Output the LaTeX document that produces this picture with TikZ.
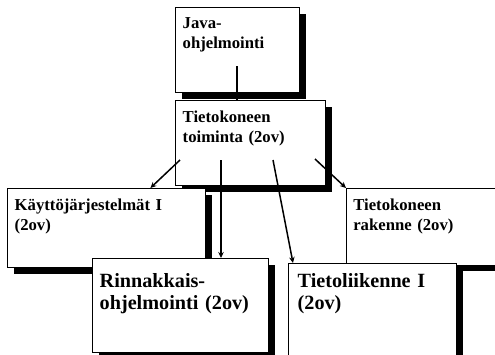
\documentclass[tikz,border=0pt]{standalone}
\usepackage{fontspec}
\setmainfont{Liberation Serif}
\usetikzlibrary{shadows,arrows.meta}

\tikzset{
  course/.style={draw, fill=white, line width=1.4pt, anchor=north west,
    align=left, inner xsep=7pt, inner ysep=0pt,
    font=\fontsize{16.7}{20}\selectfont\bfseries,
    drop shadow={shadow xshift=6pt, shadow yshift=-6pt, fill=black, opacity=1}},
  bigcourse/.style={course, font=\fontsize{20.2}{21.5}\selectfont\bfseries},
  link/.style={line width=1.5pt}
}

\begin{document}
\begin{tikzpicture}[x=1pt, y=-1pt, >={Stealth[length=6pt,width=5.5pt]}]
\clip (0,0) rectangle (495,354);

% Courses
\node[course, text width=110pt, text height=21pt, text depth=64pt] (java) at (175,7) {Java-\\ohjelmointi};
\node[course, text width=136pt, text height=22pt, text depth=63pt] (toim) at (175,100) {Tietokoneen\\toiminta (2ov)};
\node[course, text width=184pt, text height=22pt, text depth=57pt] (kay) at (7,188) {Käyttöjärjestelmät I\\(2ov)};
\node[course, line width=0.6pt, text width=186pt, text height=22pt, text depth=55pt] (rak) at (346,188) {Tietokoneen\\rakenne (2ov)};
\node[bigcourse, text width=162pt, text height=29pt, text depth=65pt] (rinn) at (92,258) {Rinnakkais-\\ohjelmointi (2ov)};
\node[bigcourse, inner xsep=9pt, text width=150pt, text height=24pt, text depth=86pt] (tliik) at (288,263) {Tietoliikenne I\\(2ov)};

% Line from Java
\coordinate (j1) at (237,66);
\draw[link] (j1) -- (j1 |- toim.north);

% Arrows from Tietokoneen toiminta
\coordinate (s1) at (180,160);
\coordinate (s2) at (221,160);
\coordinate (s3) at (273,160);
\coordinate (s4) at (315,159);
\draw[link, ->] (s1) -- ([xshift=-56pt]kay.north east);
\draw[link, ->] (s2) -- ([xshift=129pt]rinn.north west);
\draw[link, ->] (s3) -- ([xshift=5pt]tliik.north west);
\draw[link, ->] (s4) -- (rak.north west);

\end{tikzpicture}
\end{document}
